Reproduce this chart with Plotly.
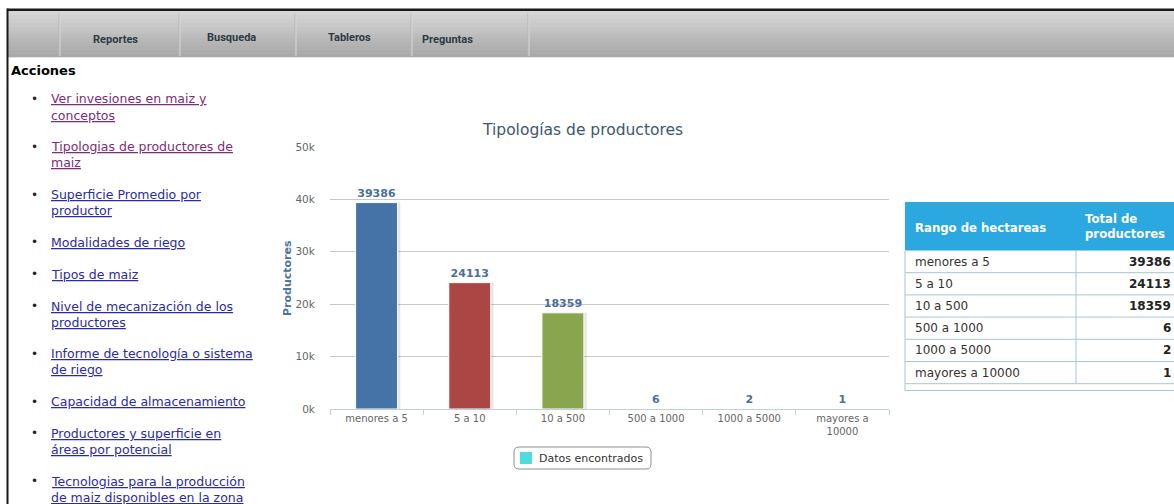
import plotly.graph_objects as go

# ---------------- data ----------------
categories = ["menores a 5", "5 a 10", "10 a 500", "500 a 1000", "1000 a 5000", "mayores a<br>10000"]
table_labels = ["menores a 5", "5 a 10", "10 a 500", "500 a 1000", "1000 a 5000", "mayores a 10000"]
productores = [39386, 24113, 18359, 6, 2, 1]
bar_colors = ["#4572A7", "#AA4643", "#89A54E", "#80699B", "#3D96AE", "#DB843D"]
y_tick_values = [0, 10000, 20000, 30000, 40000, 50000]
y_tick_labels = ["0k", "10k", "20k", "30k", "40k", "50k"]
chart_title = "Tipologías de productores"
y_title = "Productores"
legend_label = "Datos encontrados"
nav_items = ["Reportes", "Busqueda", "Tableros", "Preguntas"]
menu_items = [
    (["Ver invesiones en maiz y", "conceptos"], True),
    (["Tipologias de productores de", "maiz"], True),
    (["Superficie Promedio por", "productor"], False),
    (["Modalidades de riego"], False),
    (["Tipos de maiz"], False),
    (["Nivel de mecanización de los", "productores"], False),
    (["Informe de tecnología o sistema", "de riego"], False),
    (["Capacidad de almacenamiento"], False),
    (["Productores y superficie en", "áreas por potencial"], False),
    (["Tecnologias para la producción", "de maiz disponibles en la zona"], False),
]
table_headers = ["Rango de hectareas", "Total de<br>productores"]

# ---------------- pixel helpers ----------------
W, H = 1174, 504
L, R, T, B = 330, 889, 147, 409


def px(x):
    return (x - L) / (R - L)


def py(y):
    return (B - y) / (B - T)


shapes = []
annots = []


def rect(x0, y0, x1, y1, fill, line=None, lw=0, layer="above"):
    shapes.append(dict(type="rect", xref="paper", yref="paper",
                       x0=px(x0), x1=px(x1), y0=py(y1), y1=py(y0),
                       fillcolor=fill, line=dict(color=line or fill, width=lw), layer=layer))


def hline(x0, x1, y, color, w=1):
    shapes.append(dict(type="line", xref="paper", yref="paper",
                       x0=px(x0), x1=px(x1), y0=py(y), y1=py(y),
                       line=dict(color=color, width=w)))


def vline(x, y0, y1, color, w=1):
    shapes.append(dict(type="line", xref="paper", yref="paper",
                       x0=px(x), x1=px(x), y0=py(y0), y1=py(y1),
                       line=dict(color=color, width=w)))


def text(x, y, s, size=12, color="#333", family="DejaVu Sans", xanchor="left", angle=0, align="left"):
    annots.append(dict(xref="paper", yref="paper", x=px(x), y=py(y), text=s,
                       showarrow=False, xanchor=xanchor, yanchor="middle", align=align,
                       textangle=angle, font=dict(size=size, color=color, family=family)))


# ---------------- nav bar ----------------
n_strips = 12
top, bot = 11, 57
for i in range(n_strips):
    t = i / (n_strips - 1)
    c = int(214 - t * (214 - 168))
    y0 = top + (bot - top) * i / n_strips
    y1 = top + (bot - top) * (i + 1) / n_strips + 0.5
    rect(8, y0, W + 2, y1, f"rgb({c},{c},{c})", layer="below")
for sx in [59, 179, 295, 411, 528]:
    vline(sx, 13, 56, "#b4b4b4")
    vline(sx + 1, 13, 56, "#d8d8d8")
hline(8, W + 2, 57.5, "#e4e4e4", 1)
# page border
rect(7, 8.5, W + 2, 11, "#1a1a1a")
rect(6.5, 8.5, 8.5, H + 2, "#1a1a1a")

nav_x = [91, 205, 326, 420]
nav_y = [40, 37, 37, 40]
for s, x, y in zip(nav_items, nav_x, nav_y):
    text(x, y, f"<b>{s}</b>", size=11, color="#2e3a44", family="Roboto")

# ---------------- left menu ----------------
text(9, 70, "<b>Acciones</b>", size=13, color="#000")
y = 99
for lines, visited in menu_items:
    col = "#7b2d7b" if visited else "#2b2ba6"
    text(29, y, "•", size=12, color="#222")
    for i, ln in enumerate(lines):
        text(49, y + 16 * i, f"<u>{ln}</u>", size=12.5, color=col)
    y += 16 * len(lines) + 15.8

# ---------------- table ----------------
tl, tm, tr = 905, 1076, W + 2
rect(tl, 202, tr, 250.5, "#2aa8df", layer="below")
text(913, 228, f"<b>{table_headers[0]}</b>", size=11.7, color="#fff")
text(1083, 226.5, f"<b>{table_headers[1]}</b>", size=11.7, color="#fff")
row_h = 22.2
border_c = "#a8c6d6"
for i, (lab, val) in enumerate(zip(table_labels, productores)):
    y0 = 250.5 + row_h * i
    hline(tl, tr, y0 + row_h, border_c)
    text(913, y0 + row_h / 2, lab, size=12, color="#333")
    text(1173, y0 + row_h / 2, f"<b>{val}</b>", size=12, color="#222", xanchor="right")
vline(tl, 250.5, 390.5, border_c)
vline(tm, 250.5, 250.5 + row_h * 6, border_c)
hline(tl, tr, 390.5, border_c)

# ---------------- chart extras ----------------
text(582, 130, chart_title, size=15.5, color="#3E576F", family="DejaVu Sans", xanchor="center")
text(287, 278, f"<b>{y_title}</b>", size=11, color="#4d759e", xanchor="center", angle=-90)

# legend box (rounded)
lx0, lx1, ly0, ly1 = 514, 651, 447, 469
r = 5
rx, ry = r / (R - L), r / (B - T)
X0, X1, Y0, Y1 = px(lx0), px(lx1), py(ly1), py(ly0)
path = (f"M {X0+rx},{Y0} L {X1-rx},{Y0} Q {X1},{Y0} {X1},{Y0+ry} L {X1},{Y1-ry} "
        f"Q {X1},{Y1} {X1-rx},{Y1} L {X0+rx},{Y1} Q {X0},{Y1} {X0},{Y1-ry} L {X0},{Y0+ry} "
        f"Q {X0},{Y0} {X0+rx},{Y0} Z")
shapes.append(dict(type="path", xref="paper", yref="paper", path=path,
                   fillcolor="white", line=dict(color="#909090", width=1)))
rect(520, 452, 532, 464, "#4fdcdc")
text(537, 458, legend_label, size=11, color="#333")

# ---------------- bars ----------------
bw = 0.45
fig = go.Figure()
fig.add_trace(go.Bar(x=categories, y=productores, width=bw, offset=-bw / 2 + 0.03,
                     marker=dict(color="rgba(0,0,0,0.10)", line=dict(width=0)),
                     hoverinfo="skip", showlegend=False))
fig.add_trace(go.Bar(x=categories, y=productores, width=bw, offset=-bw / 2,
                     marker=dict(color=bar_colors, line=dict(color="white", width=1)),
                     text=[f"<b>{v}</b>" for v in productores], textposition="outside",
                     textfont=dict(size=11, color="#4a6f98", family="DejaVu Sans"),
                     cliponaxis=False, showlegend=False, name=legend_label))

fig.update_layout(
    width=W, height=H, barmode="overlay",
    margin=dict(l=L, r=W - R, t=T, b=H - B, pad=0),
    paper_bgcolor="white", plot_bgcolor="white",
    shapes=shapes, annotations=annots, showlegend=False,
    font=dict(family="DejaVu Sans"),
)
fig.update_yaxes(range=[0, 50000], tickvals=y_tick_values, ticktext=y_tick_labels,
                 showgrid=True, gridcolor="#C8C8C8", gridwidth=1, zeroline=False,
                 showline=False, ticks="outside", ticklen=12, tickcolor="rgba(0,0,0,0)",
                 tickfont=dict(size=10.5, color="#666"))
fig.update_xaxes(showline=True, linecolor="#C0D0E0", linewidth=1,
                 ticks="outside", tickson="boundaries", ticklen=5, tickcolor="#C0D0E0",
                 tickfont=dict(size=10, color="#666"), showgrid=False)

fig.write_html("out.html", config={"displayModeBar": False},
               post_script="document.body.style.margin='0';document.body.style.overflow='hidden';")
